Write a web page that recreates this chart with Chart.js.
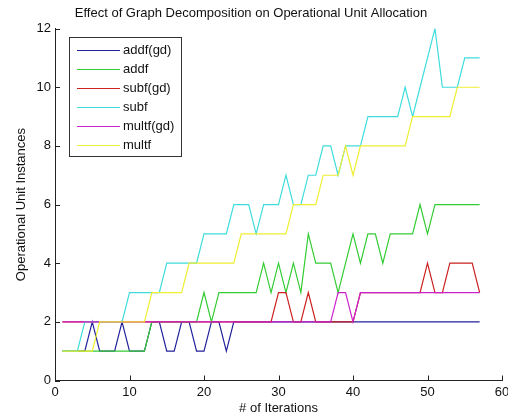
<!DOCTYPE html>
<html>
<head>
<meta charset="utf-8">
<script src="https://cdn.jsdelivr.net/npm/chart.js@4.4.1/dist/chart.umd.min.js"></script>
<style>
html,body{margin:0;padding:0;background:#fff;}
canvas{display:block;}
</style>
</head>
<body>
<canvas id="c" width="508" height="418"></canvas>
<script>
const iterations = [1,2,3,4,5,6,7,8,9,10,11,12,13,14,15,16,17,18,19,20,21,22,23,24,25,26,27,28,29,30,31,32,33,34,35,36,37,38,39,40,41,42,43,44,45,46,47,48,49,50,51,52,53,54,55,56,57];
const seriesNames = ["addf(gd)","addf","subf(gd)","subf","multf(gd)","multf"];
const addfGd  = [1,1,1,1,2,1,1,1,2,1,1,1,2,2,1,1,2,2,1,1,2,2,1,2,2,2,2,2,2,2,2,2,2,2,2,2,2,2,2,2,2,2,2,2,2,2,2,2,2,2,2,2,2,2,2,2,2];
const addf    = [1,1,1,1,1,1,1,1,1,1,1,1,2,2,2,2,2,2,2,3,2,3,3,3,3,3,3,4,3,4,3,4,3,5,4,4,4,3,4,5,4,5,5,4,5,5,5,5,6,5,6,6,6,6,6,6,6];
const subfGd  = [2,2,2,2,2,2,2,2,2,2,2,2,2,2,2,2,2,2,2,2,2,2,2,2,2,2,2,2,2,3,3,2,2,3,2,2,2,2,2,2,3,3,3,3,3,3,3,3,3,4,3,3,4,4,4,4,3];
const subf    = [1,1,1,2,2,2,2,2,2,3,3,3,3,3,4,4,4,4,4,5,5,5,5,6,6,6,5,6,6,6,7,6,6,7,7,8,8,7,8,8,8,9,9,9,9,9,10,9,10,11,12,10,10,10,11,11,11];
const multfGd = [2,2,2,2,2,2,2,2,2,2,2,2,2,2,2,2,2,2,2,2,2,2,2,2,2,2,2,2,2,2,2,2,2,2,2,2,2,3,3,2,3,3,3,3,3,3,3,3,3,3,3,3,3,3,3,3,3];
const multf   = [1,1,1,1,1,2,2,2,2,2,2,2,3,3,3,3,3,4,4,4,4,4,4,4,5,5,5,5,5,5,5,6,6,6,6,7,7,7,8,7,8,8,8,8,8,8,8,9,9,9,9,9,9,10,10,10,10];
const xTickValues = [0,10,20,30,40,50,60];
const yTickValues = [0,2,4,6,8,10,12];
const titleText = "Effect of Graph Decomposition on Operational Unit Allocation";
const xTitle = "# of Iterations";
const yTitle = "Operational Unit Instances";

const allSeries = [addfGd, addf, subfGd, subf, multfGd, multf];
const colors = ["#22229a", "#33cc33", "#cc2222", "#3fdcdc", "#cc22cc", "#eeee33"];
const FONT = "'Liberation Sans', Arial, sans-serif";

const datasets = allSeries.map((vals, i) => ({
  label: seriesNames[i],
  data: iterations.map((x, k) => ({x: x, y: vals[k]})),
  borderColor: colors[i],
  backgroundColor: colors[i],
  borderWidth: 1.2,
  pointRadius: 0,
  tension: 0,
  fill: false,
  order: allSeries.length - i
}));

const decor = {
  id: 'decor',
  afterDatasetsDraw(chart) {
    const ctx = chart.ctx;
    const xs = chart.scales.x, ys = chart.scales.y;
    const a = chart.chartArea;
    ctx.save();
    ctx.strokeStyle = '#222';
    ctx.lineWidth = 1;
    ctx.beginPath();
    xTickValues.forEach(v => {
      const px = Math.round(xs.getPixelForValue(v)) + 0.5;
      ctx.moveTo(px, a.bottom);
      ctx.lineTo(px, a.bottom - 5);
    });
    yTickValues.forEach(v => {
      const py = Math.round(ys.getPixelForValue(v)) + 0.5;
      ctx.moveTo(a.left, py);
      ctx.lineTo(a.left + 5, py);
    });
    ctx.stroke();

    // legend box
    const bx = 69.5, by = 37.5, bw = 112, bh = 119;
    ctx.fillStyle = '#fff';
    ctx.fillRect(bx, by, bw, bh);
    ctx.strokeStyle = '#333';
    ctx.strokeRect(bx, by, bw, bh);
    ctx.font = '13px ' + FONT;
    ctx.textBaseline = 'middle';
    ctx.textAlign = 'left';
    chart.data.datasets.forEach((ds, i) => {
      const y = Math.round(by + 12 + i * 19.1) + 0.5;
      ctx.strokeStyle = ds.borderColor;
      ctx.lineWidth = 1.2;
      ctx.beginPath();
      ctx.moveTo(77, y);
      ctx.lineTo(120, y);
      ctx.stroke();
      ctx.fillStyle = '#111';
      ctx.fillText(ds.label, 123, y);
    });
    ctx.restore();
  }
};

new Chart(document.getElementById('c'), {
  type: 'line',
  data: { datasets: datasets },
  options: {
    responsive: false,
    animation: false,
    devicePixelRatio: 1,
    layout: { padding: { left: 0, right: 6, top: 0, bottom: 0 } },
    plugins: {
      legend: { display: false },
      tooltip: { enabled: false },
      title: {
        display: true,
        text: titleText,
        color: '#111',
        font: { family: FONT, size: 13, weight: 'normal', lineHeight: 1.2 },
        padding: { top: 6, bottom: 7 }
      }
    },
    scales: {
      x: {
        type: 'linear',
        min: 0, max: 60,
        grid: { display: true, drawOnChartArea: false, drawTicks: false },
        border: { display: true, color: '#222', width: 1 },
        ticks: {
          stepSize: 10,
          color: '#111',
          padding: 4,
          maxRotation: 0,
          font: { family: FONT, size: 13 }
        },
        title: {
          display: true,
          text: xTitle,
          color: '#111',
          font: { family: FONT, size: 13 },
          padding: { top: 0, bottom: 2 }
        },
        afterFit(scale) { scale.height = 37.5; scale.paddingLeft = 0; scale.paddingRight = 0; }
      },
      y: {
        type: 'linear',
        min: 0, max: 12,
        grid: { display: true, drawOnChartArea: false, drawTicks: false },
        border: { display: true, color: '#222', width: 1 },
        ticks: {
          stepSize: 2,
          color: '#111',
          padding: 4,
          font: { family: FONT, size: 13 }
        },
        title: {
          display: true,
          text: yTitle,
          color: '#111',
          font: { family: FONT, size: 13 },
          padding: { top: 14, bottom: 0 }
        },
        afterFit(scale) { scale.width = 55; scale.paddingTop = 0; scale.paddingBottom = 0; }
      }
    }
  },
  plugins: [decor]
});
</script>
</body>
</html>
